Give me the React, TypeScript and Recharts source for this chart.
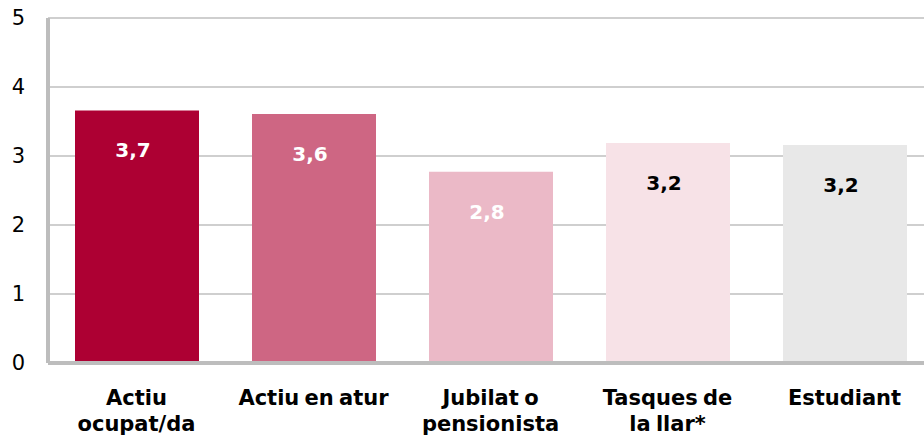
import React from "react";
import { BarChart, Bar, XAxis, YAxis, CartesianGrid, Cell, LabelList } from "recharts";

const categories = [
    "Actiu\nocupat/da",
    "Actiu en atur",
    "Jubilat o\npensionista",
    "Tasques de\nla llar*",
    "Estudiant",
];
const values = [3.66, 3.61, 2.77, 3.19, 3.16];
const barColors = ["#ad0033", "#ce6683", "#ebb9c7", "#f7e2e7", "#e8e8e8"];
const labelColors = ["#ffffff", "#ffffff", "#ffffff", "#000000", "#000000"];
const yTicks = [0, 1, 2, 3, 4, 5];

const data = categories.map((name, i) => ({ name, value: values[i] }));

const FONT = "DejaVu Sans, Verdana, sans-serif";

const CategoryTick = (props: any) => {
    const { x, y, payload } = props;
    const lines = String(payload.value).split("\n");
    return (
        <text
            x={x}
            y={y + 42}
            textAnchor="middle"
            fill="#000"
            fontFamily={FONT}
            fontWeight="bold"
            fontSize={21}
            wordSpacing={-2}
        >
            {lines.map((l, i) => (
                <tspan key={i} x={x} dy={i === 0 ? 0 : 26}>
                    {l}
                </tspan>
            ))}
        </text>
    );
};

const ValueLabel = (props: any) => {
    const { x, y, width, value, index } = props;
    return (
        <text
            x={x + width / 2 - 4}
            y={y + 47}
            textAnchor="middle"
            fill={labelColors[index]}
            fontFamily={FONT}
            fontWeight="bold"
            fontSize={20}
        >
            {Number(value).toFixed(1).replace(".", ",")}
        </text>
    );
};

const App = () => {
    return (
        <div
            style={{
                position: "absolute",
                left: 0,
                top: 0,
                width: 924,
                height: 437,
                overflow: "hidden",
                background: "#fff",
            }}
        >
            <BarChart
                width={940}
                height={437}
                data={data}
                margin={{ top: 18, right: 7, left: 0, bottom: 0 }}
            >
                <CartesianGrid
                    vertical={false}
                    stroke="#bfbfbf"
                    strokeWidth={1.5}
                />
                <XAxis
                    dataKey="name"
                    height={74}
                    tickLine={false}
                    tickSize={0}
                    tickMargin={0}
                    axisLine={{ stroke: "#bdbdbd", strokeWidth: 4 }}
                    tick={<CategoryTick />}
                    interval={0}
                />
                <YAxis
                    width={48}
                    domain={[0, 5]}
                    ticks={yTicks}
                    tickLine={false}
                    tickSize={0}
                    tickMargin={23}
                    axisLine={{ stroke: "#bdbdbd", strokeWidth: 4 }}
                    tick={{ fill: "#000", fontSize: 21, fontFamily: FONT }}
                />
                <Bar dataKey="value" barSize={124} isAnimationActive={false}>
                    {data.map((_, i) => (
                        <Cell key={i} fill={barColors[i]} />
                    ))}
                    <LabelList dataKey="value" content={<ValueLabel />} />
                </Bar>
            </BarChart>
        </div>
    );
};

export default App;
